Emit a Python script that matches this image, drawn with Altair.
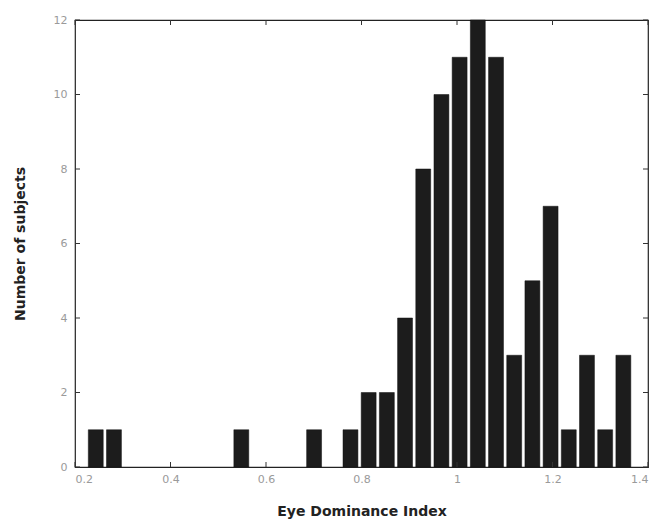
import altair as alt
import pandas as pd

# Histogram bins (centres) and counts
bin_centers = [0.2435, 0.2816, 0.5483, 0.7007, 0.7769, 0.8150, 0.8531, 0.8912,
               0.9293, 0.9674, 1.0055, 1.0436, 1.0817, 1.1198, 1.1579, 1.1960,
               1.2341, 1.2722, 1.3103, 1.3484]
counts = [1, 1, 1, 1, 1, 2, 2, 4, 8, 10, 11, 12, 11, 3, 5, 7, 1, 3, 1, 3]
bin_width = 0.0381
x_ticks = [0.2, 0.4, 0.6, 0.8, 1.0, 1.2, 1.4]
y_ticks = [0, 2, 4, 6, 8, 10, 12]

df = pd.DataFrame({"c": bin_centers, "n": counts})
df["x0"] = df["c"] - bin_width * 0.41
df["x1"] = df["c"] + bin_width * 0.41
df["y0"] = 0

W, H = 573, 447
xs = alt.Scale(domain=[0.2, 1.4], nice=False, zero=False)
ys = alt.Scale(domain=[0, 12], nice=False)

bars = alt.Chart(df).mark_rect(color="#1c1c1c", stroke="#111111", strokeWidth=0.5).encode(
    x=alt.X("x0:Q", scale=xs,
            axis=alt.Axis(values=x_ticks, title="Eye Dominance Index", grid=False,
                          domain=False, ticks=False, labelPadding=6, titlePadding=20,
                          titleFontWeight=600,
                          labelExpr="datum.value == 1 ? '1' : format(datum.value, '.1f')")),
    x2="x1:Q",
    y=alt.Y("n:Q", scale=ys,
            axis=alt.Axis(values=y_ticks, title="Number of subjects", grid=False,
                          domain=False, ticks=False, labelPadding=8, titlePadding=26)),
    y2="y0:Q",
)

xt = pd.DataFrame({"v": x_ticks})
yt = pd.DataFrame({"v": y_ticks})
tick_col = "#333333"
xb = alt.Chart(xt).mark_rule(color=tick_col).encode(
    x=alt.X("v:Q", scale=xs), y=alt.value(H), y2=alt.value(H - 5))
xtop = alt.Chart(xt).mark_rule(color=tick_col).encode(
    x=alt.X("v:Q", scale=xs), y=alt.value(0), y2=alt.value(5))
yl = alt.Chart(yt).mark_rule(color=tick_col).encode(
    y=alt.Y("v:Q", scale=ys), x=alt.value(0), x2=alt.value(5))
yr = alt.Chart(yt).mark_rule(color=tick_col).encode(
    y=alt.Y("v:Q", scale=ys), x=alt.value(W), x2=alt.value(W - 5))

chart = alt.layer(bars, xb, xtop, yl, yr).properties(
    width=W, height=H,
    padding={"left": 67, "top": 12, "right": 9, "bottom": 52},
    autosize=alt.AutoSizeParams(type="none"),
).configure_view(
    stroke="#222222", strokeWidth=1.2
).configure_axis(
    labelFont="DejaVu Sans", labelFontSize=11, labelColor="#9a9a9a",
    titleFont="DejaVu Sans", titleFontSize=14, titleColor="#222222", titleFontWeight="bold",
)

chart.save("out.html", embed_options={"renderer": "svg", "actions": False})
